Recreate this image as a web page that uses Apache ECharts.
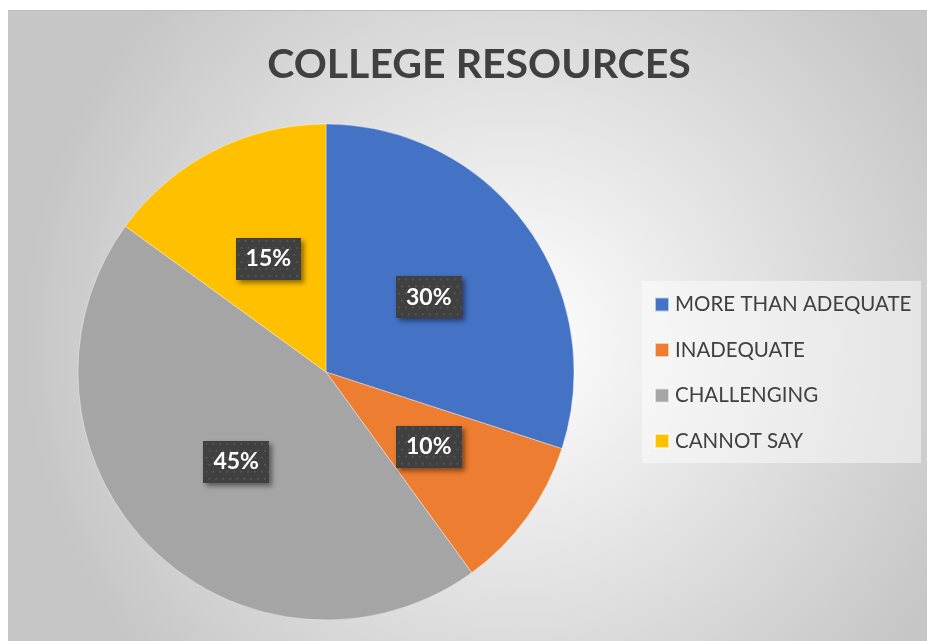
<!DOCTYPE html>
<html>
<head>
<meta charset="utf-8">
<script src="https://cdn.jsdelivr.net/npm/echarts@6/dist/echarts.min.js"></script>
<style>
html,body{margin:0;padding:0;background:#fff;width:927px;height:641px;overflow:hidden;}
#c{position:absolute;left:8px;top:10px;width:919px;height:631px;border-top:1px solid #bdbdbd;box-sizing:border-box;}
</style>
</head>
<body>
<div id="c"></div>
<script>
const titleText = 'COLLEGE RESOURCES';
const categories = ['MORE THAN ADEQUATE', 'INADEQUATE', 'CHALLENGING', 'CANNOT SAY'];
const values = [30, 10, 45, 15];
const colors = ['#4472C4', '#ED7D31', '#A5A5A5', '#FFC000'];

// dotted dark pattern for label boxes
function makePattern(w, h) {
  const cv = document.createElement('canvas');
  cv.width = w; cv.height = h;
  const ctx = cv.getContext('2d');
  ctx.fillStyle = '#404040';
  ctx.fillRect(0, 0, w, h);
  ctx.fillStyle = '#545454';
  for (let y = 2; y < h; y += 7) {
    for (let x = 2 + ((Math.floor(y / 7)) % 2) * 3; x < w; x += 7) {
      ctx.fillRect(x, y, 2, 2);
    }
  }
  return cv;
}
const pat = makePattern(66, 42);

const chart = echarts.init(document.getElementById('c'));
chart.setOption({
  backgroundColor: {
    type: 'radial', x: 0.55, y: 0.52, r: 0.78,
    colorStops: [{offset: 0, color: '#ffffff'}, {offset: 1, color: '#c6c6c6'}]
  },
  color: colors,
  title: {
    text: titleText,
    left: 466, textAlign: 'center', top: 28,
    textStyle: {fontFamily: 'Lato', fontWeight: 'bold', fontSize: 41, color: '#404040'}
  },
  graphic: [{
    type: 'rect', left: 634, top: 270, shape: {width: 279, height: 182},
    style: {fill: 'rgba(255,255,255,0.45)'}, silent: true, z: 0
  }],
  legend: {
    orient: 'vertical', left: 646, top: 283, padding: 0,
    icon: 'rect', itemWidth: 14, itemHeight: 14, itemGap: 24.5,
    data: categories,
    textStyle: {fontFamily: 'Lato', fontSize: 20.5, color: '#404040', lineHeight: 20, padding: [0, 0, 0, 1]}
  },
  series: [{
    type: 'pie',
    center: [318, 361],
    radius: [0, 248],
    startAngle: 90,
    clockwise: true,
    animation: false,
    itemStyle: {borderColor: 'rgba(255,255,255,0.6)', borderWidth: 0.6},
    label: {
      show: true, position: 'inside',
      formatter: p => p.value + '%',
      fontFamily: 'Lato', fontWeight: 'bold', fontSize: 23, color: '#ffffff',
      backgroundColor: {image: pat},
      padding: [10, 10, 9, 10],
      shadowColor: 'rgba(0,0,0,0.45)', shadowBlur: 5, shadowOffsetX: 3, shadowOffsetY: 3
    },
    labelLine: {show: false},
    emphasis: {disabled: true},
    data: categories.map((n, i) => ({name: n, value: values[i]}))
  }]
});
</script>
</body>
</html>
